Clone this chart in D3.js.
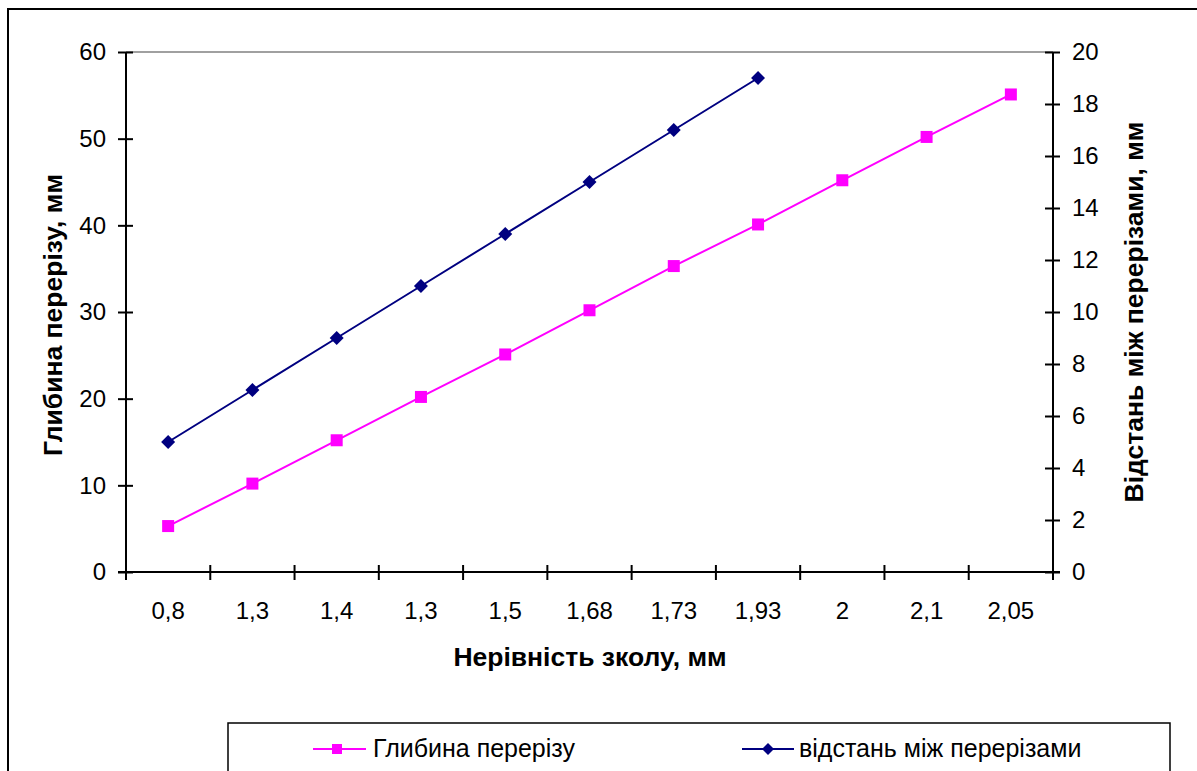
<!DOCTYPE html>
<html>
<head>
<meta charset="utf-8">
<script src="https://cdn.jsdelivr.net/npm/d3@7"></script>
<style>
  html, body { margin: 0; padding: 0; background: #fff; }
  svg { display: block; font-family: "Liberation Sans", Arial, sans-serif; }
</style>
</head>
<body>
<svg id="chart" width="1197" height="771"></svg>
<script>
// Category labels on the x axis (roughness of the chip, mm)
const categories = ["0,8", "1,3", "1,4", "1,3", "1,5", "1,68", "1,73", "1,93", "2", "2,1", "2,05"];
// Cut depth, mm (left axis)
const depthValues = [5.3, 10.2, 15.2, 20.2, 25.1, 30.2, 35.3, 40.1, 45.2, 50.2, 55.1];
// Distance between cuts, mm (right axis)
const distanceValues = [5, 7, 9, 11, 13, 15, 17, 19];
const leftTicks = [0, 10, 20, 30, 40, 50, 60];
const rightTicks = [0, 2, 4, 6, 8, 10, 12, 14, 16, 18, 20];

const seriesNames = ["Глибина перерізу", "відстань між перерізами"];
const pink = "#FF00FF", navy = "#000080";

const svg = d3.select("#chart");

// Outer chart frame
svg.append("rect")
  .attr("x", 8).attr("y", 9).attr("width", 1195).attr("height", 780)
  .attr("fill", "none").attr("stroke", "#000").attr("stroke-width", 2);

const plotLeft = 126, plotRight = 1053, plotTop = 52, plotBottom = 572;
const idx = categories.map((_, i) => i);

const x = d3.scaleBand().domain(idx).range([plotLeft, plotRight]).paddingInner(0).paddingOuter(0);
const yL = d3.scaleLinear().domain([0, 60]).range([plotBottom, plotTop]);
const yR = d3.scaleLinear().domain([0, 20]).range([plotBottom, plotTop]);

// Top border line of the plot area
svg.append("line")
  .attr("x1", plotLeft).attr("x2", plotRight).attr("y1", plotTop).attr("y2", plotTop)
  .attr("stroke", "#808080").attr("stroke-width", 1.5);

const fontSize = 24;

// Left axis
const gL = svg.append("g").attr("transform", `translate(${plotLeft},0)`)
  .call(d3.axisLeft(yL).tickValues(leftTicks).tickSizeInner(8).tickSizeOuter(0).tickPadding(12));
gL.selectAll(".tick line").attr("x1", 7).attr("x2", -8);
// Right axis
const gR = svg.append("g").attr("transform", `translate(${plotRight},0)`)
  .call(d3.axisRight(yR).tickValues(rightTicks).tickSizeInner(8).tickSizeOuter(0).tickPadding(11));
gR.selectAll(".tick line").attr("x1", -8).attr("x2", 7);

// Bottom axis: ticks on category boundaries, labels at band centres
const gB = svg.append("g").attr("transform", `translate(0,${plotBottom})`);
gB.append("line").attr("x1", plotLeft - 8).attr("x2", plotRight + 7).attr("stroke", "#000").attr("stroke-width", 2);
const bounds = idx.map(i => x(i)).concat([x(idx[idx.length - 1]) + x.bandwidth()]);
gB.selectAll("line.tk").data(bounds).join("line").attr("class", "tk")
  .attr("x1", d => d).attr("x2", d => d).attr("y1", -7).attr("y2", 8)
  .attr("stroke", "#000").attr("stroke-width", 2);
gB.selectAll("text").data(idx).join("text")
  .attr("x", i => x(i) + x.bandwidth() / 2).attr("y", 47)
  .attr("text-anchor", "middle").attr("font-size", fontSize).attr("fill", "#000")
  .text(i => categories[i]);

[gL, gR].forEach(g => {
  g.select(".domain").attr("stroke", "#000").attr("stroke-width", 2)
    .attr("d", `M0,${plotTop}V${plotBottom + 8}`);
  g.selectAll(".tick line").attr("stroke", "#000").attr("stroke-width", 2);
  g.selectAll(".tick text").attr("font-size", fontSize).attr("fill", "#000")
    .attr("font-family", "Liberation Sans, Arial, sans-serif");
});

// Axis titles
const titleSize = 26.5;
svg.append("text").attr("x", 590).attr("y", 666).attr("text-anchor", "middle")
  .attr("font-size", titleSize).attr("font-weight", "bold").text("Нерівність зколу, мм");
svg.append("text").attr("transform", `translate(62,315) rotate(-90)`).attr("text-anchor", "middle")
  .attr("font-size", titleSize).attr("font-weight", "bold").text("Глибина перерізу, мм");
svg.append("text").attr("transform", `translate(1143,312) rotate(-90)`).attr("text-anchor", "middle")
  .attr("font-size", titleSize).attr("font-weight", "bold").text("Відстань між перерізами, мм");

const cx = i => x(i) + x.bandwidth() / 2;

// Depth series
svg.append("path").datum(depthValues)
  .attr("d", d3.line().x((d, i) => cx(i)).y(d => yL(d)))
  .attr("fill", "none").attr("stroke", pink).attr("stroke-width", 2);
svg.selectAll("rect.pm").data(depthValues).join("rect").attr("class", "pm")
  .attr("x", (d, i) => cx(i) - 6).attr("y", d => yL(d) - 6)
  .attr("width", 12).attr("height", 12).attr("fill", pink);

// Distance series
svg.append("path").datum(distanceValues)
  .attr("d", d3.line().x((d, i) => cx(i)).y(d => yR(d)))
  .attr("fill", "none").attr("stroke", navy).attr("stroke-width", 2);
const diamond = "M0,-7L7,0L0,7L-7,0Z";
svg.selectAll("path.nm").data(distanceValues).join("path").attr("class", "nm")
  .attr("transform", (d, i) => `translate(${cx(i)},${yR(d)})`)
  .attr("d", diamond).attr("fill", navy);

// Legend
const lg = svg.append("g");
lg.append("rect").attr("x", 228).attr("y", 723).attr("width", 942).attr("height", 80)
  .attr("fill", "#fff").attr("stroke", "#000").attr("stroke-width", 1.5);
const ly = 749;
lg.append("line").attr("x1", 313).attr("x2", 366).attr("y1", ly).attr("y2", ly).attr("stroke", pink).attr("stroke-width", 2);
lg.append("rect").attr("x", 332).attr("y", ly - 5).attr("width", 10).attr("height", 10).attr("fill", pink);
lg.append("text").attr("x", 373).attr("y", 757).attr("font-size", 25).text(seriesNames[0]);
lg.append("line").attr("x1", 742).attr("x2", 794).attr("y1", ly).attr("y2", ly).attr("stroke", navy).attr("stroke-width", 2);
lg.append("path").attr("transform", `translate(768,${ly})`).attr("d", "M0,-6L6,0L0,6L-6,0Z").attr("fill", navy);
lg.append("text").attr("x", 799).attr("y", 757).attr("font-size", 25).text(seriesNames[1]);
</script>
</body>
</html>
